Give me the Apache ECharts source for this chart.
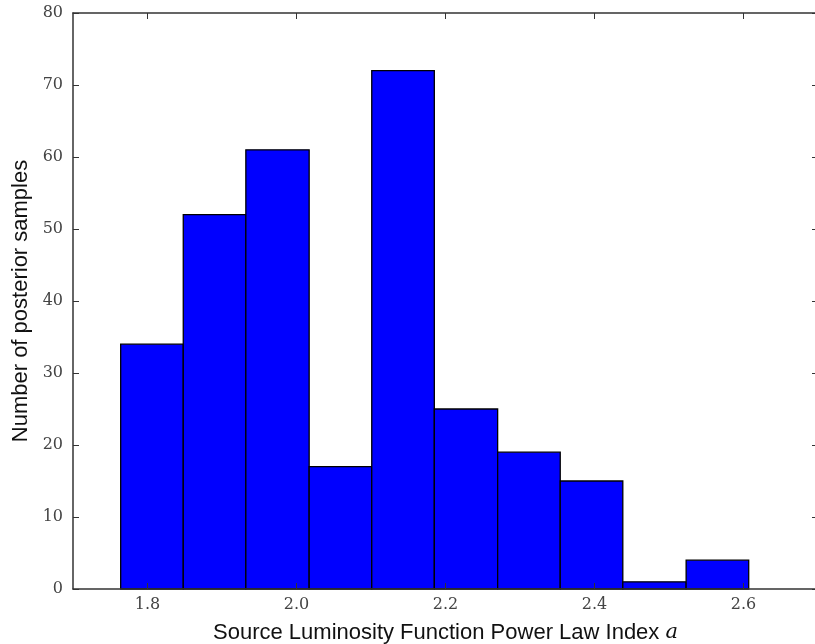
<!DOCTYPE html>
<html>
<head>
<meta charset="utf-8">
<script src="https://cdn.jsdelivr.net/npm/echarts@6/dist/echarts.min.js"></script>
<style>
  html, body { margin: 0; padding: 0; background: #fff; }
  #chart { width: 815px; height: 644px; }
</style>
</head>
<body>
<div id="chart"></div>
<script>
// histogram of posterior samples for the power law index
const binEdges = [1.764, 1.848, 1.932, 2.017, 2.101, 2.185, 2.270, 2.354, 2.438, 2.523, 2.607]
const counts = [34, 52, 61, 17, 72, 25, 19, 15, 1, 4]
const xTicks = [1.8, 2.0, 2.2, 2.4, 2.6]

const bins = counts.map((c, i) => [binEdges[i], binEdges[i + 1], c])

const chart = echarts.init(document.getElementById('chart'))

const spine = { show: true, onZero: false, lineStyle: { color: '#333', width: 1.5 } }
const tickFont = { fontFamily: 'DejaVu Serif', fontSize: 16, color: '#444' }
const xTick = { show: true, inside: true, length: 6, customValues: xTicks, lineStyle: { color: '#333' } }
const yTick = { show: true, inside: true, length: 6, lineStyle: { color: '#333' } }

chart.setOption({
  animation: false,
  grid: { left: 73, top: 13, width: 745, height: 576, containLabel: false, outerBoundsMode: 'none' },
  xAxis: [
    {
      type: 'value',
      z: 5,
      min: 1.7,
      max: 2.7,
      position: 'bottom',
      axisLine: spine,
      splitLine: { show: false },
      axisTick: xTick,
      axisLabel: { customValues: xTicks, formatter: (v) => v.toFixed(1), margin: 8, ...tickFont },
      name: 'Source Luminosity Function Power Law Index {i|a}',
      nameLocation: 'middle',
      nameGap: 33,
      nameTextStyle: {
        fontFamily: 'Liberation Sans',
        fontSize: 22,
        color: '#111',
        rich: { i: { fontFamily: 'DejaVu Serif', fontStyle: 'italic', fontSize: 21, color: '#111' } }
      }
    },
    {
      type: 'value',
      z: 5,
      min: 1.7,
      max: 2.7,
      position: 'top',
      axisLine: spine,
      splitLine: { show: false },
      axisTick: xTick,
      axisLabel: { show: false }
    }
  ],
  yAxis: [
    {
      type: 'value',
      z: 5,
      min: 0,
      max: 80,
      interval: 10,
      position: 'left',
      axisLine: spine,
      splitLine: { show: false },
      axisTick: yTick,
      axisLabel: { margin: 10, ...tickFont },
      name: 'Number of posterior samples',
      nameLocation: 'middle',
      nameGap: 39,
      nameTextStyle: { fontFamily: 'Liberation Sans', fontSize: 22, color: '#111' }
    },
    {
      type: 'value',
      z: 5,
      min: 0,
      max: 80,
      interval: 10,
      position: 'right',
      axisLine: spine,
      splitLine: { show: false },
      axisTick: yTick,
      axisLabel: { show: false }
    }
  ],
  series: [
    {
      type: 'custom',
      data: bins,
      encode: { x: [0, 1], y: 2 },
      renderItem: (params, api) => {
        const p0 = api.coord([api.value(0), api.value(2)])
        const p1 = api.coord([api.value(1), 0])
        return {
          type: 'rect',
          shape: { x: p0[0], y: p0[1], width: p1[0] - p0[0], height: p1[1] - p0[1] },
          style: { fill: '#0000ff', stroke: '#000', lineWidth: 1.3 }
        }
      }
    }
  ]
})
</script>
</body>
</html>
